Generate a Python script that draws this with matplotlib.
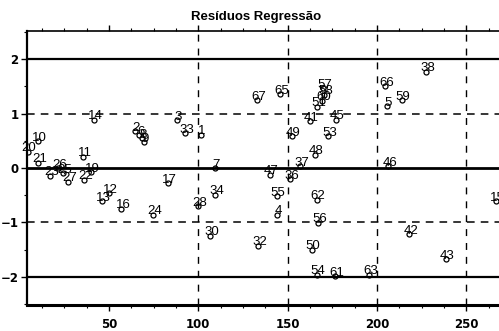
import matplotlib
matplotlib.use("Agg")
import matplotlib.pyplot as plt
from matplotlib.ticker import MultipleLocator

# observation labels, order index (x) and standardized residual (y)
labels = ["20", "10", "21", "26", "23", "25", "27", "22", "19", "11",
          "14", "13", "12", "16", "2", "6", "8", "9", "24", "17",
          "3", "33", "1", "28", "7", "34", "30", "67", "32", "47",
          "55", "4", "65", "36", "49", "37", "41", "50", "48", "62",
          "54", "51", "56", "60", "58", "57", "53", "61", "45", "63",
          "66", "5", "46", "59", "42", "38", "43", "15"]
obs = [4.5, 10.5, 10.5, 21.5, 17, 24.5, 27, 36.2, 40, 35.7,
       41.8, 46, 50.2, 57, 64.6, 67, 68.3, 69.5, 74.7, 83.2,
       87.9, 92.6, 101.3, 100, 109.3, 109.3, 106.5, 132.7, 133.6, 140.1,
       143.8, 144.2, 145.7, 151.3, 152.2, 156.9, 162.5, 163.4, 165.3, 166.2,
       166.2, 166.4, 167.1, 169.2, 170.5, 169.7, 172.7, 176.5, 177, 195.6,
       204.4, 205.3, 206.3, 213.8, 218, 227.3, 238.5, 266.5]
resid = [0.30, 0.49, 0.10, 0.0, -0.14, -0.10, -0.25, -0.22, -0.08, 0.21,
         0.89, -0.61, -0.46, -0.75, 0.68, 0.60, 0.55, 0.47, -0.86, -0.28,
         0.88, 0.64, 0.61, -0.70, 0.0, -0.49, -1.25, 1.25, -1.43, -0.12,
         -0.52, -0.86, 1.36, -0.21, 0.58, 0.03, 0.86, -1.50, 0.24, -0.58,
         -1.96, 1.13, -1.01, 1.24, 1.35, 1.47, 0.58, -1.99, 0.89, -1.96,
         1.50, 1.14, 0.03, 1.25, -1.22, 1.77, -1.68, -0.61]

solid_levels = [2, 0, -2]
dashed_levels = [1, -1]
vlines = [100, 150, 200, 250]

fig = plt.figure(figsize=(4.99, 3.31), dpi=100)
ax = fig.add_axes([27 / 499, 26 / 331, 496 / 499, 274 / 331])

for lv in solid_levels:
    ax.axhline(lv, color="black", lw=2.0 if lv == 0 else 1.6, zorder=1)
for lv in dashed_levels:
    ax.axhline(lv, color="black", lw=1.1, ls=(0, (5, 4)), zorder=1)
for v in vlines:
    ax.axvline(v, color="black", lw=1.0, ls=(0, (5, 5)), zorder=1)

ax.plot(obs, resid, "o", mfc="none", mec="black", ms=3.6, mew=0.9, zorder=3)
for lab, x, y in zip(labels, obs, resid):
    ax.annotate(lab, (x, y), xytext=(1.5, 0.5), textcoords="offset pixels",
                ha="center", va="baseline", fontsize=9.5,
                family="Liberation Sans", zorder=4)

ax.set_xlim(4.2, 281.6)
ax.set_ylim(-2.52, 2.52)

ax.xaxis.set_major_locator(MultipleLocator(50))
ax.xaxis.set_minor_locator(MultipleLocator(12.5))
ax.yaxis.set_major_locator(MultipleLocator(1))
ax.yaxis.set_minor_locator(MultipleLocator(0.5))
ax.tick_params(which="major", direction="out", length=4, width=1,
               labelsize=8.5, pad=2, top=True)
ax.tick_params(which="minor", direction="out", length=2.5, width=0.8, top=True)
ax.tick_params(axis="x", which="major", pad=5)
for t in ax.get_xticklabels() + ax.get_yticklabels():
    t.set_fontweight("bold")

ax.spines["right"].set_visible(False)
ax.spines["left"].set_linewidth(1.6)
ax.spines["bottom"].set_linewidth(2.2)
ax.spines["top"].set_linewidth(1.2)

fig.text(256.5 / 499, 1 - 20 / 331, "Resíduos Regressão", ha="center",
         va="baseline", fontsize=9.5, fontweight="bold",
         family="Liberation Sans")

fig.savefig("out.png", dpi=100)
